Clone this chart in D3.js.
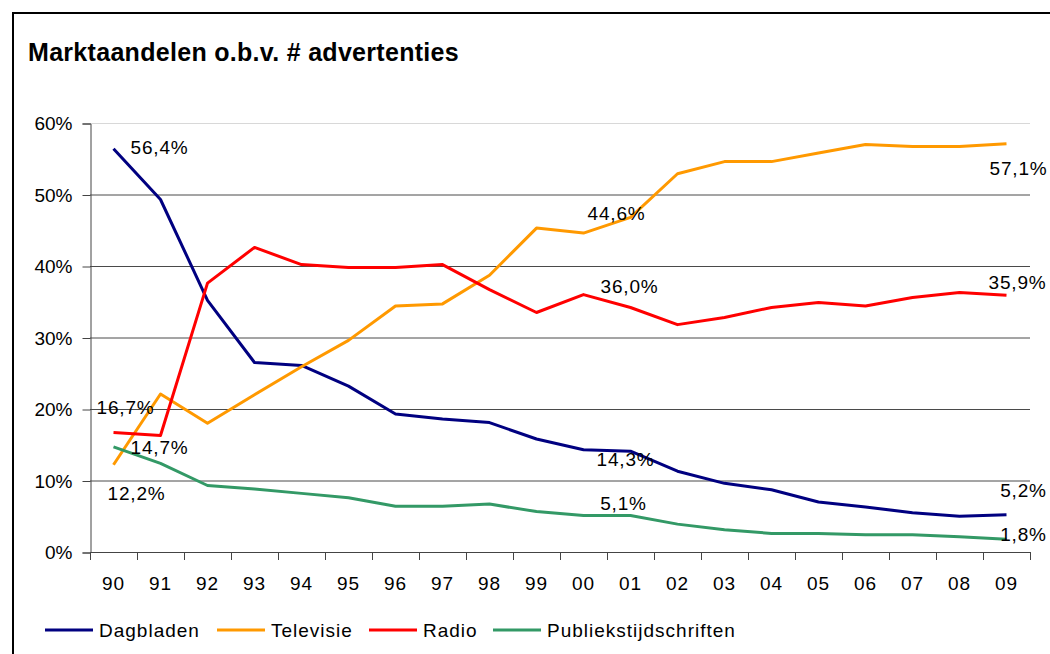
<!DOCTYPE html>
<html>
<head>
<meta charset="utf-8">
<script src="https://cdn.jsdelivr.net/npm/d3@7"></script>
<style>
body { margin: 0; background: #fff; }
text { font-family: "Liberation Sans", Arial, sans-serif; fill: #000; }
</style>
</head>
<body>
<div class="chart-container"></div>
<script>
// marktaandelen per mediumtype, in procenten
var years = ["90","91","92","93","94","95","96","97","98","99","00","01","02","03","04","05","06","07","08","09"]
var dagbladen = [56.4, 49.3, 35.2, 26.5, 26.1, 23.2, 19.3, 18.6, 18.1, 15.8, 14.3, 14.1, 11.3, 9.6, 8.7, 7.0, 6.3, 5.5, 5.0, 5.2]
var televisie = [12.2, 22.1, 18.0, 22.0, 25.9, 29.6, 34.4, 34.7, 38.7, 45.3, 44.6, 46.8, 52.9, 54.6, 54.6, 55.8, 57.0, 56.7, 56.7, 57.1]
var radio = [16.7, 16.3, 37.6, 42.6, 40.2, 39.8, 39.8, 40.2, 36.7, 33.5, 36.0, 34.2, 31.8, 32.8, 34.2, 34.9, 34.4, 35.6, 36.3, 35.9]
var publiek = [14.7, 12.4, 9.3, 8.8, 8.2, 7.6, 6.4, 6.4, 6.7, 5.65, 5.1, 5.1, 3.9, 3.1, 2.6, 2.6, 2.4, 2.4, 2.15, 1.8]
var yTicks = [0, 10, 20, 30, 40, 50, 60]
var seriesNames = ["Dagbladen", "Televisie", "Radio", "Publiekstijdschriften"]
var labelIdx = [0, 10, 19]

var colors = ["#000080", "#FF9900", "#FF0000", "#339966"]
var seriesVals = [dagbladen, televisie, radio, publiek]

// label offsets (dx, dy of text center vs point), per series for 90 / 00 / 09
var labelOffsets = [
  [[46, -1], [42, 10], [17, -24]],
  [[23, 29], [33, -20], [12, 25]],
  [[12, -25], [46, -8], [11, -13]],
  [[46, 0], [40, -12], [17, -5]]
]

var W = 1050, H = 654
var margins = {left: 90, right: 20, top: 123, bottom: 102}
var width = 1030 - margins.left
var height = 552 - margins.top

var svg = d3.select(".chart-container").append("svg")
  .attr("width", W).attr("height", H)

// frame
svg.append("rect")
  .attr("x", 13).attr("y", 13).attr("width", 1100).attr("height", 700)
  .attr("fill", "none").attr("stroke", "#000").attr("stroke-width", 2)

svg.append("text")
  .attr("x", 28).attr("y", 61)
  .style("font-size", "25px").style("font-weight", "bold").style("letter-spacing", "0.3px")
  .text("Marktaandelen o.b.v. # advertenties")

var g = svg.append("g").attr("transform", "translate(" + margins.left + "," + margins.top + ")")

var xScale = d3.scaleBand().domain(years).range([0, width])
var yScale = d3.scaleLinear().domain([0, 60]).range([height, 0])

// gridlines
g.selectAll(".grid").data(yTicks.filter(function(d){ return d > 0 }))
  .enter().append("line")
  .attr("x1", 0).attr("x2", width)
  .attr("y1", function(d){ return yScale(d) + 0.5 })
  .attr("y2", function(d){ return yScale(d) + 0.5 })
  .attr("stroke", function(d){ return d == 60 ? "#d8d8d8" : "#4a4a4a" })
  .attr("stroke-width", 1)

var yAxis = d3.axisLeft(yScale).tickValues(yTicks).tickSize(8).tickPadding(10)
  .tickFormat(function(d){ return d + "%" })
var yg = g.append("g").attr("transform", "translate(0.5,0.5)").call(yAxis)
yg.select(".domain").attr("stroke", "#444")
yg.selectAll(".tick line").attr("stroke", "#444")
yg.selectAll("text").style("font-size", "19px").style("font-family", "Liberation Sans, Arial, sans-serif").attr("fill", "#000")

// x axis with ticks between categories
g.append("line").attr("x1", 0).attr("x2", width).attr("y1", height + 0.5).attr("y2", height + 0.5).attr("stroke", "#444")
var bounds = years.map(function(d){ return xScale(d) }).concat([width])
g.selectAll(".xtick").data(bounds).enter().append("line")
  .attr("x1", function(d){ return Math.round(d) + 0.5 }).attr("x2", function(d){ return Math.round(d) + 0.5 })
  .attr("y1", height).attr("y2", height + 8).attr("stroke", "#444")
g.selectAll(".xlab").data(years).enter().append("text")
  .attr("x", function(d){ return xScale(d) + xScale.bandwidth() / 2 })
  .attr("y", height + 38)
  .attr("text-anchor", "middle")
  .style("font-size", "19px").style("letter-spacing", "1px")
  .text(function(d){ return d })

var line = d3.line()
  .x(function(d, i){ return xScale(years[i]) + xScale.bandwidth() / 2 })
  .y(function(d){ return yScale(d) })

seriesVals.forEach(function(vals, s){
  g.append("path").datum(vals)
    .attr("d", line)
    .attr("fill", "none")
    .attr("stroke", colors[s])
    .attr("stroke-width", 3)
    .attr("stroke-linejoin", "round")
})

seriesVals.forEach(function(vals, s){
  labelIdx.forEach(function(idx, k){
    var v = vals[idx]
    var off = labelOffsets[s][k]
    g.append("text")
      .attr("x", xScale(years[idx]) + xScale.bandwidth() / 2 + off[0])
      .attr("y", yScale(v) + off[1])
      .attr("dy", "0.35em")
      .attr("text-anchor", "middle")
      .style("font-size", "19px").style("letter-spacing", "0.8px")
      .text(String(v.toFixed(1)).replace(".", ",") + "%")
  })
})

// legend
var legX = [45, 217, 369, 493]
var leg = svg.append("g")
seriesNames.forEach(function(name, s){
  leg.append("line")
    .attr("x1", legX[s]).attr("x2", legX[s] + 48)
    .attr("y1", 630).attr("y2", 630)
    .attr("stroke", colors[s]).attr("stroke-width", 3)
  leg.append("text")
    .attr("x", legX[s] + 54).attr("y", 630).attr("dy", "0.35em")
    .style("font-size", "19px").style("letter-spacing", "1px")
    .text(name)
})
</script>
</body>
</html>
